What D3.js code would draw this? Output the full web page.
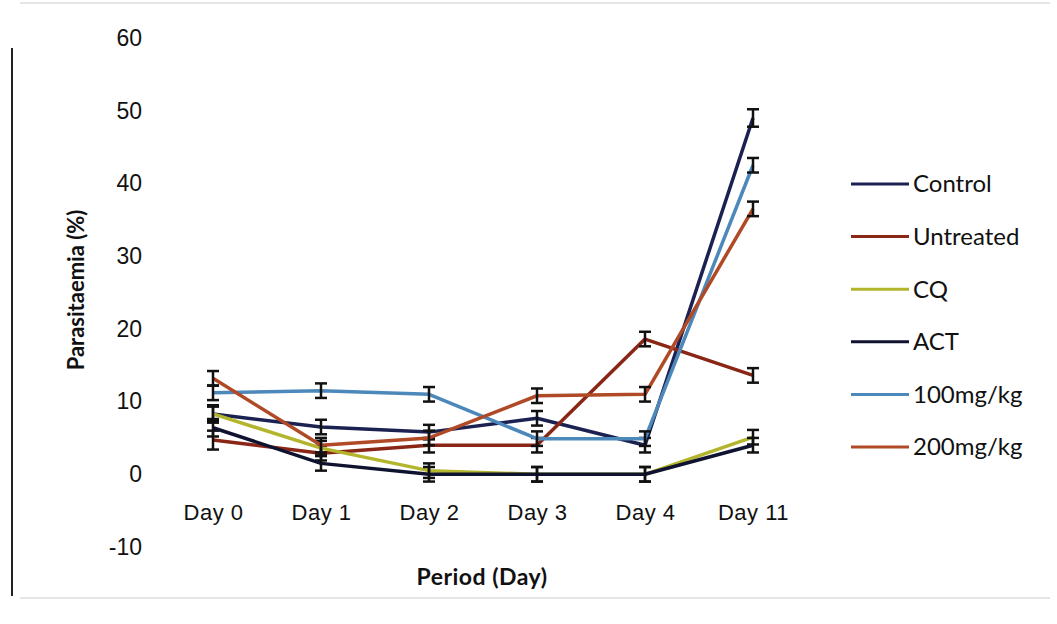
<!DOCTYPE html>
<html>
<head>
<meta charset="utf-8">
<script src="https://cdn.jsdelivr.net/npm/d3@7"></script>
<style>
	body { margin: 0; background: #fff; }
	svg { display: block; font-family: Lato, "Open Sans", sans-serif; }
</style>
</head>
<body>
<svg id="chart" width="1057" height="624"></svg>
<script>
// chart data
var days = ["Day 0", "Day 1", "Day 2", "Day 3", "Day 4", "Day 11"];
var yTicks = [-10, 0, 10, 20, 30, 40, 50, 60];

var seriesNames = ["Control", "Untreated", "CQ", "ACT", "100mg/kg", "200mg/kg"];
var seriesColors = ["#1b2150", "#8a2616", "#b3b62c", "#0f1330", "#4d88ba", "#b04a26"];

var controlValues   = [8.3, 6.5, 5.8, 7.7, 4.0, 49.0];
var untreatedValues = [4.7, 2.9, 4.0, 4.0, 18.6, 13.6];
var cqValues        = [8.3, 3.6, 0.5, 0.0, 0.0, 5.1];
var actValues       = [6.4, 1.5, 0.0, 0.0, 0.0, 4.0];
var mg100Values     = [11.2, 11.5, 11.0, 4.9, 4.9, 42.5];
var mg200Values     = [13.2, 4.0, 5.0, 10.8, 11.0, 36.5];

var controlErr   = [1.2, 1.0, 1.0, 1.0, 1.0, 1.2];
var untreatedErr = [1.3, 1.0, 1.0, 1.0, 1.0, 1.0];
var cqErr        = [1.0, 1.0, 1.0, 1.0, 1.0, 1.0];
var actErr       = [1.2, 1.0, 1.0, 1.0, 1.0, 1.0];
var mg100Err     = [1.0, 1.0, 1.0, 1.0, 1.0, 1.0];
var mg200Err     = [1.0, 1.0, 1.0, 1.0, 1.0, 1.0];

var allValues = [controlValues, untreatedValues, cqValues, actValues, mg100Values, mg200Values];
var allErr = [controlErr, untreatedErr, cqErr, actErr, mg100Err, mg200Err];

var series = [];
for (var s = 0; s < seriesNames.length; s++) {
	var pts = [];
	for (var i = 0; i < days.length; i++) {
		pts.push({ day: days[i], value: allValues[s][i], err: allErr[s][i] });
	}
	series.push({ name: seriesNames[s], color: seriesColors[s], points: pts });
}

var svg = d3.select("#chart");

var x = d3.scalePoint().domain(days).range([213, 753]);
var y = d3.scaleLinear().domain([-10, 60]).range([547, 38]);

// frame remains of the scanned figure
svg.append("line").attr("x1", 12).attr("x2", 12).attr("y1", 48).attr("y2", 596)
	.style("stroke", "#222").style("stroke-width", 2);
svg.append("line").attr("x1", 20).attr("x2", 1050).attr("y1", 3).attr("y2", 3)
	.style("stroke", "#ddd").style("stroke-width", 1.5);
svg.append("line").attr("x1", 20).attr("x2", 1050).attr("y1", 598).attr("y2", 598)
	.style("stroke", "#ddd").style("stroke-width", 1.5);

// y axis, labels only
var yAxis = svg.append("g")
	.attr("transform", "translate(146,0)")
	.call(d3.axisLeft(y).tickValues(yTicks).tickSize(0).tickPadding(4)
		.tickFormat(function(d) { return String(d); }));
yAxis.select(".domain").remove();
yAxis.selectAll("text").style("font-size", "23px").style("fill", "#111").attr("font-family", null);

// x axis, labels only
var xAxis = svg.append("g")
	.attr("transform", "translate(0,512)")
	.call(d3.axisBottom(x).tickSize(0).tickPadding(0));
xAxis.select(".domain").remove();
xAxis.selectAll("text").attr("dy", "0.35em")
	.style("font-size", "22px").style("letter-spacing", "0.5px")
	.style("fill", "#111").attr("font-family", null);

svg.append("text")
	.attr("x", 482).attr("y", 585)
	.attr("text-anchor", "middle")
	.style("font-size", "23px").style("font-weight", "bold").style("letter-spacing", "0.5px").style("fill", "#111")
	.text("Period (Day)");

svg.append("text")
	.attr("transform", "translate(84,290) rotate(-90)")
	.attr("text-anchor", "middle")
	.style("font-size", "22px").style("font-weight", "bold").style("fill", "#111")
	.text("Parasitaemia (%)");

var line = d3.line()
	.x(function(d) { return x(d.day); })
	.y(function(d) { return y(d.value); });

var groups = svg.selectAll(".series")
	.data(series)
	.enter().append("g")
	.attr("class", "series");

groups.append("path")
	.attr("d", function(d) { return line(d.points); })
	.style("fill", "none")
	.style("stroke", function(d) { return d.color; })
	.style("stroke-width", 3.5)
	.style("stroke-linejoin", "round");

// error bars
var bars = groups.selectAll(".err")
	.data(function(d) { return d.points; })
	.enter().append("g")
	.attr("class", "err");

bars.append("line")
	.attr("x1", function(d) { return x(d.day); })
	.attr("x2", function(d) { return x(d.day); })
	.attr("y1", function(d) { return y(d.value + d.err); })
	.attr("y2", function(d) { return y(d.value - d.err); })
	.style("stroke", "#111").style("stroke-width", 2.5);
bars.append("line")
	.attr("x1", function(d) { return x(d.day) - 6; })
	.attr("x2", function(d) { return x(d.day) + 6; })
	.attr("y1", function(d) { return y(d.value + d.err); })
	.attr("y2", function(d) { return y(d.value + d.err); })
	.style("stroke", "#111").style("stroke-width", 2.5);
bars.append("line")
	.attr("x1", function(d) { return x(d.day) - 6; })
	.attr("x2", function(d) { return x(d.day) + 6; })
	.attr("y1", function(d) { return y(d.value - d.err); })
	.attr("y2", function(d) { return y(d.value - d.err); })
	.style("stroke", "#111").style("stroke-width", 2.5);

// legend
var legend = svg.selectAll(".legend")
	.data(series)
	.enter().append("g")
	.attr("class", "legend")
	.attr("transform", function(d, i) { return "translate(851," + (184 + i * 52.6) + ")"; });

legend.append("line")
	.attr("x1", 0).attr("x2", 58).attr("y1", 0).attr("y2", 0)
	.style("stroke", function(d) { return d.color; })
	.style("stroke-width", 3);

legend.append("text")
	.attr("x", 62).attr("y", 0).attr("dy", "0.35em")
	.style("font-size", "24px").style("fill", "#111")
	.text(function(d) { return d.name; });
</script>
</body>
</html>
